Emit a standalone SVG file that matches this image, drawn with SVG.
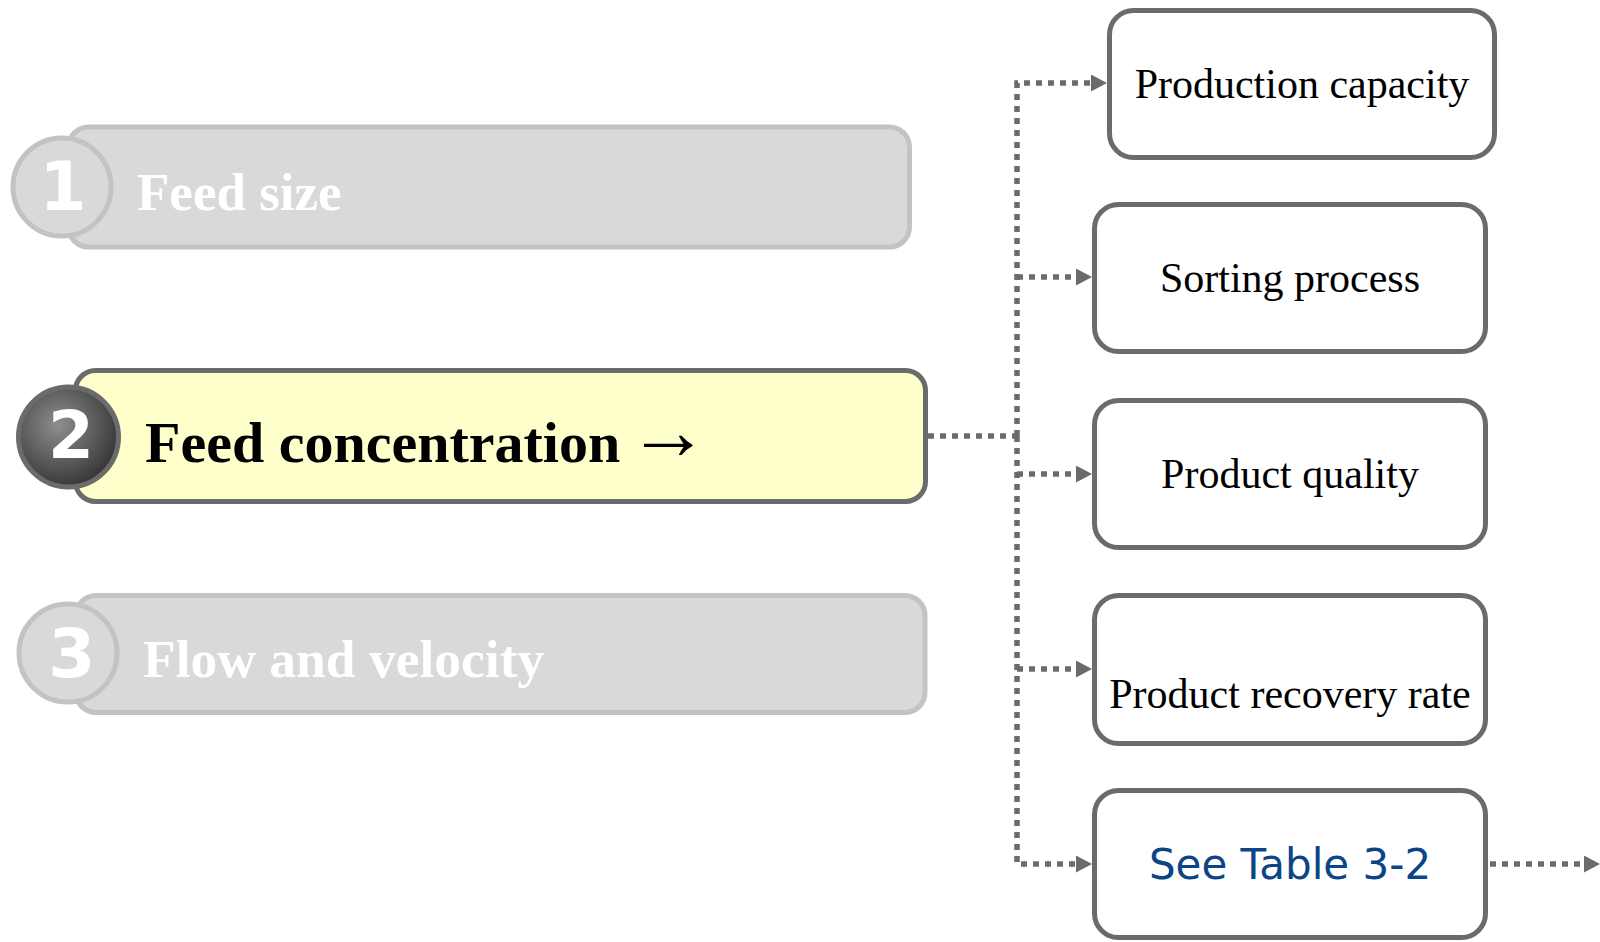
<svg xmlns="http://www.w3.org/2000/svg" width="1600" height="942" viewBox="0 0 1600 942">
  <style>
    .bar-off { fill: #d9d9d9; stroke: #c3c3c3; stroke-width: 5; }
    .bar-on { fill: #ffffcc; stroke: #6b6b6b; stroke-width: 5; }
    .num { font-family: "DejaVu Sans", sans-serif; font-weight: bold; fill: #ffffff; text-anchor: middle; }
    .title { font-family: "Liberation Serif", "Times New Roman", serif; font-weight: bold; }
    .box { fill: #ffffff; stroke: #6b6b6b; stroke-width: 5; }
    .label { font-family: "Liberation Serif", "Times New Roman", serif; font-size: 42px; fill: #000000; text-anchor: middle; }
    .link { font-family: "DejaVu Sans", sans-serif; font-size: 42px; fill: #0b4487; text-anchor: middle; }
    .conn { fill: none; stroke: #6b6b6b; stroke-width: 5.5; stroke-dasharray: 6 6; }
  </style>
  <defs>
    <radialGradient id="darkBall" cx="40%" cy="38%" r="65%">
      <stop offset="0" stop-color="#8e8e8e"/>
      <stop offset="1" stop-color="#353535"/>
    </radialGradient>
    <marker id="arrow" markerUnits="userSpaceOnUse" markerWidth="16" markerHeight="17" refX="0" refY="8.5" orient="auto">
      <path d="M0,0 L16,8.5 L0,17 Z" fill="#6b6b6b"/>
    </marker>
  </defs>

  <rect width="1600" height="942" fill="#ffffff"/>

  <!-- connectors -->
  <g id="connectors">
    <path class="conn" d="M928,436 H1017"/>
    <path class="conn" d="M1017,436 V83 H1091" marker-end="url(#arrow)"/>
    <path class="conn" d="M1017,277 H1076" marker-end="url(#arrow)"/>
    <path class="conn" d="M1017,474 H1076" marker-end="url(#arrow)"/>
    <path class="conn" d="M1017,669 H1076" marker-end="url(#arrow)"/>
    <path class="conn" d="M1017,436 V864 H1076" marker-end="url(#arrow)"/>
    <path class="conn" d="M1490,864 H1584" marker-end="url(#arrow)"/>
  </g>

  <!-- step 1 -->
  <g id="step1">
    <rect class="bar-off" x="68.5" y="127" width="841" height="120" rx="20"/>
    <circle cx="62" cy="187" r="49" fill="#d9d9d9" stroke="#c3c3c3" stroke-width="5"/>
    <text class="num" x="63" y="210" font-size="68">1</text>
    <text class="title" x="137" y="210" font-size="53" fill="#ffffff">Feed size</text>
  </g>

  <!-- step 2 (active) -->
  <g id="step2">
    <rect class="bar-on" x="75.5" y="370.5" width="850" height="131" rx="20"/>
    <circle cx="68.5" cy="437" r="50" fill="url(#darkBall)" stroke="#6b6b6b" stroke-width="5"/>
    <text class="num" x="71" y="458" font-size="66">2</text>
    <text class="title" x="145" y="462" font-size="58" fill="#000000">Feed concentration <tspan x="627" dy="-3" font-size="82">→</tspan></text>
  </g>

  <!-- step 3 -->
  <g id="step3">
    <rect class="bar-off" x="76" y="595.5" width="849" height="117" rx="20"/>
    <circle cx="68" cy="653" r="49" fill="#d9d9d9" stroke="#c3c3c3" stroke-width="5"/>
    <text class="num" x="72" y="677" font-size="68">3</text>
    <text class="title" x="143" y="677" font-size="53.5" fill="#ffffff">Flow and velocity</text>
  </g>

  <!-- outcome boxes -->
  <g id="production-capacity">
    <rect class="box" x="1109.5" y="10.5" width="385" height="147" rx="24"/>
    <text class="label" x="1302" y="98">Production capacity</text>
  </g>
  <g id="sorting-process">
    <rect class="box" x="1094.5" y="204.5" width="391" height="147" rx="24"/>
    <text class="label" x="1290" y="292">Sorting process</text>
  </g>
  <g id="product-quality">
    <rect class="box" x="1094.5" y="400.5" width="391" height="147" rx="24"/>
    <text class="label" x="1290" y="488">Product quality</text>
  </g>
  <g id="product-recovery-rate">
    <rect class="box" x="1094.5" y="595.5" width="391" height="148" rx="24"/>
    <text class="label" x="1290" y="708">Product recovery rate</text>
  </g>
  <g id="see-table">
    <rect class="box" x="1094.5" y="790.5" width="391" height="147" rx="24"/>
    <text class="link" x="1290" y="879">See Table 3-2</text>
  </g>
</svg>
